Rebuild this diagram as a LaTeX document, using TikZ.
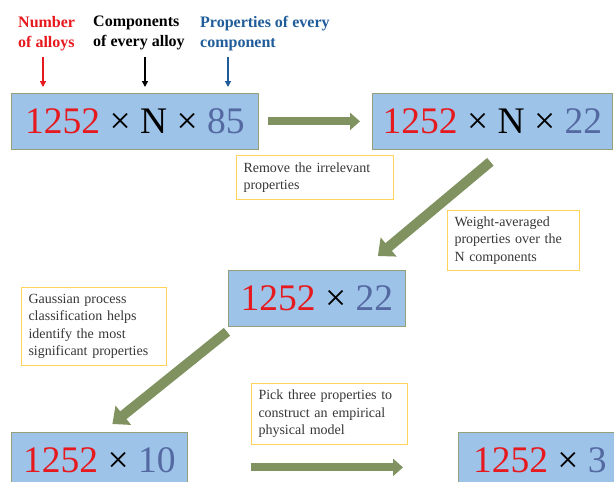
\documentclass[tikz,border=0pt]{standalone}
\usepackage{fontspec}
\setmainfont{Liberation Serif}
\usetikzlibrary{arrows.meta}
\definecolor{numred}{RGB}{230,25,30}
\definecolor{numblue}{RGB}{84,104,162}
\definecolor{labblue}{RGB}{31,92,153}
\definecolor{boxfill}{RGB}{157,196,232}
\definecolor{boxline}{RGB}{150,160,120}
\definecolor{arrgreen}{RGB}{127,146,95}
\definecolor{noteline}{RGB}{255,210,90}
\definecolor{notetext}{RGB}{55,55,55}
\newcommand{\tms}{\,×\,}
\tikzset{
  bigbox/.style={draw=boxline, line width=0.8pt, fill=boxfill, minimum height=56pt, inner sep=0pt, anchor=north west, font=\fontsize{37.5}{44}\selectfont},
  note/.style={draw=noteline, line width=1pt, fill=white, anchor=north west, align=left, inner xsep=7pt, inner ysep=0pt, text=notetext, font=\fontsize{14}{17.5}\selectfont},
  toplab/.style={anchor=north west, align=left, inner sep=0pt, font=\bfseries\fontsize{16}{20}\selectfont},
  blockarrow/.style={draw=arrgreen, line width=8pt, -{Triangle[length=10pt,width=17pt]}},
  diagarrow/.style={draw=arrgreen, line width=10pt, -{Triangle[length=14pt,width=24pt]}},
  labarrow/.style={line width=1.2pt, -{Triangle[length=6pt,width=6pt]}}
}
\begin{document}
\begin{tikzpicture}[x=1pt,y=-1pt]
\useasboundingbox (0,0) rectangle (614,482);
% top labels
\node[toplab, text=numred] (lab1) at (18,16) {Number\\of alloys};
\node[toplab, text=black] (lab2) at (93,16) {Components\\of every alloy};
\node[toplab, text=labblue] (lab3) at (200,16) {Properties of every\\component};
% boxes
\node[bigbox, minimum width=247pt] (box1) at (11,93) {\textcolor{numred}{1252} × N × \textcolor{numblue}{85}};
\node[bigbox, minimum width=240pt] (box2) at (372,93) {\textcolor{numred}{1252} × N × \textcolor{numblue}{22}};
\node[bigbox, minimum width=177pt] (box3) at (228,270) {\textcolor{numred}{1252} × \textcolor{numblue}{22}};
\node[bigbox, minimum width=176pt] (box4) at (11,432) {\textcolor{numred}{1252} × \textcolor{numblue}{10}};
\node[bigbox, minimum width=163pt] (box5) at (458,432) {\textcolor{numred}{1252} × \textcolor{numblue}{3}};
% label arrows
\draw[labarrow, draw=numred, fill=numred] (43,57) coordinate (r0) -- (r0 |- 0,87);
\draw[labarrow, draw=black, fill=black] (145,57) coordinate (k0) -- (k0 |- 0,87);
\draw[labarrow, draw=labblue, fill=labblue] (228,57) coordinate (b0) -- (b0 |- 0,87);
% notes
\node[note, text width=143pt, minimum height=44pt] (n1) at (236,155) {Remove the irrelevant\\properties};
\node[note, text width=118pt, minimum height=60pt] (n2) at (447,210) {Weight-averaged\\properties over the\\N components};
\node[note, text width=131pt, minimum height=78pt] (n3) at (21,287) {Gaussian process\\classification helps\\identify the most\\significant properties};
\node[note, text width=142pt, minimum height=61pt] (n4) at (251,383) {Pick three properties to\\construct an empirical\\physical model};
% green arrows
\draw[blockarrow] ([xshift=9pt]box1.east) -- ([xshift=-12pt]box2.west);
\draw[diagarrow] ([xshift=-2pt,yshift=-12pt]box2.south) -- ([xshift=61pt,yshift=14pt]box3.north);
\draw[diagarrow] ([xshift=-1pt,yshift=-5pt]box3.south west) -- ([xshift=13pt,yshift=8pt]box4.north);
\draw[blockarrow] ([xshift=63pt,yshift=-7pt]box4.east) -- ([xshift=-55pt,yshift=-7pt]box5.west);
\end{tikzpicture}
\end{document}
